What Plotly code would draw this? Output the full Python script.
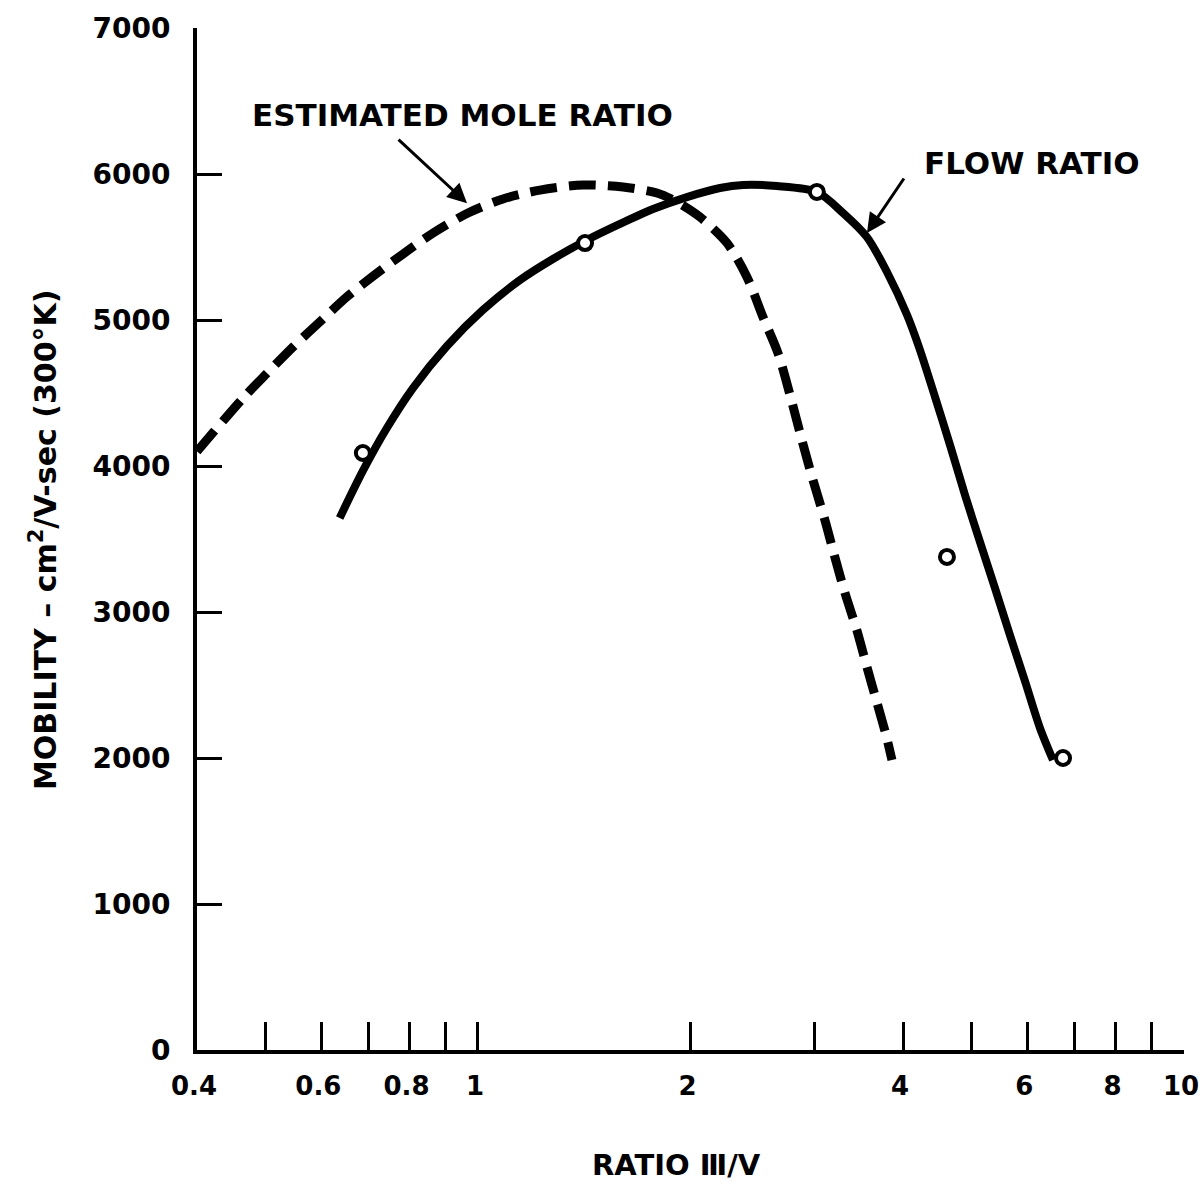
import plotly.graph_objects as go
import math

# ---- data ----
mole_x = [0.40, 0.465, 0.503, 0.547, 0.601, 0.652, 0.708, 0.783, 0.864, 0.968, 1.085,
          1.224, 1.408, 1.605, 1.793, 1.914, 2.063, 2.253, 2.404, 2.533, 2.66, 2.767, 2.876,
          2.982, 3.10, 3.205, 3.31, 3.44, 3.556, 3.675, 3.784, 3.858]
mole_y = [4100, 4466, 4637, 4815, 5000, 5158, 5295, 5452, 5596, 5733, 5829,
          5890, 5925, 5911, 5870, 5808, 5705, 5527, 5295, 5021, 4774, 4486, 4178,
          3904, 3630, 3370, 3130, 2877, 2623, 2377, 2158, 1986]

flow_x = [0.637, 0.687, 0.743, 0.809, 0.904, 1.016, 1.147, 1.277, 1.427, 1.589, 1.770, 1.977,
          2.202, 2.374, 2.651, 3.02, 3.289, 3.556, 3.796, 4.053, 4.227, 4.440, 4.662, 4.896,
          5.141, 5.398, 5.668, 5.953, 6.252, 6.523]
flow_y = [3644, 3966, 4260, 4534, 4822, 5068, 5274, 5418, 5548, 5658, 5760, 5842,
          5904, 5925, 5918, 5877, 5733, 5568, 5329, 5034, 4795, 4473, 4144, 3801,
          3479, 3164, 2842, 2527, 2205, 1986]

meas_x = [0.687, 1.418, 3.02, 4.616, 6.74]
meas_y = [4089, 5527, 5877, 3377, 2000]

x_tickvals = [0.4, 0.5, 0.6, 0.7, 0.8, 0.9, 1, 2, 3, 4, 5, 6, 7, 8, 9, 10]
x_ticktext = ["0.4", "", "0.6", "", "0.8", "", "1", "2", "", "4", "", "6", "", "8", "", "10"]
y_tickvals = [0, 1000, 2000, 3000, 4000, 5000, 6000, 7000]
y_ticktext = ["0", "1000", "2000", "3000", "4000", "5000", "6000", "7000"]

mole_arrow_head = (0.965, 5800)
flow_arrow_head = (3.556, 5596)

FONT = "DejaVu Sans"

fig = go.Figure()
fig.add_trace(go.Scatter(x=mole_x, y=mole_y, mode="lines",
                         line=dict(color="black", width=9, dash="27px,12px", shape="spline", smoothing=0.8),
                         showlegend=False, hoverinfo="skip"))
fig.add_trace(go.Scatter(x=flow_x, y=flow_y, mode="lines",
                         line=dict(color="black", width=8, shape="spline", smoothing=0.8),
                         showlegend=False, hoverinfo="skip"))
fig.add_trace(go.Scatter(x=meas_x, y=meas_y, mode="markers",
                         marker=dict(symbol="circle", size=14, color="white",
                                     line=dict(color="black", width=4)),
                         showlegend=False, hoverinfo="skip"))

fig.update_layout(
    width=1204, height=1182,
    margin=dict(l=197, r=20, t=28, b=132, autoexpand=False),
    paper_bgcolor="white", plot_bgcolor="white",
    font=dict(family=FONT, color="black", size=28, weight="bold"),
    xaxis=dict(type="log", range=[math.log10(0.4), 1.0], tickvals=x_tickvals, ticktext=x_ticktext,
               ticks="inside", ticklen=28, tickwidth=3, tickcolor="black", automargin=False,
               showline=True, linewidth=4, linecolor="black", showgrid=False, zeroline=False,
               tickfont=dict(family=FONT, size=26, weight="bold"), ticklabelstandoff=10,
               ticklabelshift=-3),
    yaxis=dict(range=[0, 7000], tickvals=y_tickvals, ticktext=y_ticktext,
               ticks="inside", ticklen=25, tickwidth=3, tickcolor="black", automargin=False,
               showline=True, linewidth=4, linecolor="black", showgrid=False, zeroline=False,
               tickfont=dict(family=FONT, size=28, weight="bold"), ticklabelstandoff=17),
)

annotations = [
    dict(text="ESTIMATED MOLE RATIO", xref="paper", yref="paper", x=0.2695, y=0.915,
         showarrow=False, font=dict(size=31, family=FONT, weight="bold"), xanchor="center", yanchor="middle"),
    dict(text="FLOW RATIO", xref="paper", yref="paper", x=0.846, y=0.868,
         showarrow=False, font=dict(size=31, family=FONT, weight="bold"), xanchor="center", yanchor="middle"),
    dict(text="", x=math.log10(mole_arrow_head[0]), y=mole_arrow_head[1], xref="x", yref="y",
         showarrow=True, ax=-70, ay=-65, arrowhead=2, arrowsize=1.3, arrowwidth=3, arrowcolor="black",
         standoff=0),
    dict(text="", x=math.log10(flow_arrow_head[0]), y=flow_arrow_head[1], xref="x", yref="y",
         showarrow=True, ax=38, ay=-56, arrowhead=2, arrowsize=1.3, arrowwidth=3, arrowcolor="black",
         standoff=0),
    dict(text="RATIO Ⅲ/V", xref="paper", yref="paper", x=0.486, y=-0.1125,
         showarrow=False, font=dict(size=29, family=FONT, weight="bold"), xanchor="center", yanchor="middle"),
    dict(text="MOBILITY – cm<sup>2</sup>/V-sec (300°K)", xref="paper", yref="paper", x=-0.156, y=0.499,
         textangle=-90, showarrow=False, font=dict(size=30, family=FONT, weight="bold"),
         xanchor="center", yanchor="middle"),
]
fig.update_layout(annotations=annotations)

fig.write_html("out.html", config={"displayModeBar": False},
               post_script="document.body.style.margin='0px';document.body.style.overflow='hidden';")
